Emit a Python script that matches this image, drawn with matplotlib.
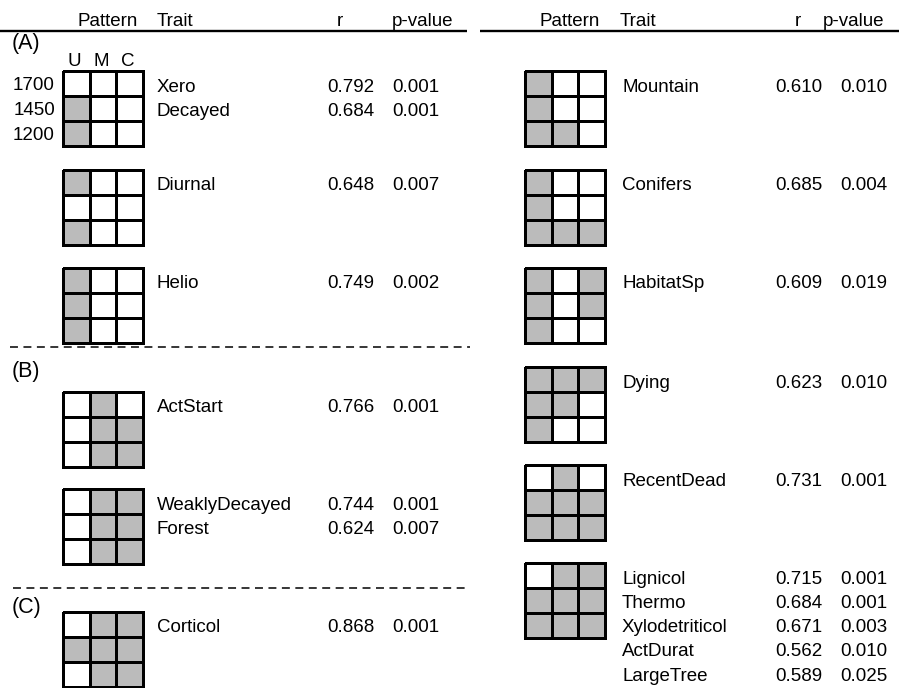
import numpy as np
import matplotlib.pyplot as plt
from matplotlib.colors import ListedColormap

plt.rcParams['font.family'] = ['Liberation Sans', 'DejaVu Sans']

# rows = elevation (1700, 1450, 1200), cols = U, M, C ; 1 = grey cell
elevations = ["1700", "1450", "1200"]
stages = ["U", "M", "C"]

left_traits = [["Xero", "Decayed"], ["Diurnal"], ["Helio"],
               ["ActStart"], ["WeaklyDecayed", "Forest"], ["Corticol"]]
left_r = [[0.792, 0.684], [0.648], [0.749], [0.766], [0.744, 0.624], [0.868]]
left_p = [[0.001, 0.001], [0.007], [0.002], [0.001], [0.001, 0.007], [0.001]]
left_patterns = [
    [[0, 0, 0], [1, 0, 0], [1, 0, 0]],
    [[1, 0, 0], [0, 0, 0], [1, 0, 0]],
    [[1, 0, 0], [1, 0, 0], [1, 0, 0]],
    [[0, 1, 0], [0, 1, 1], [0, 1, 1]],
    [[0, 1, 1], [0, 1, 1], [0, 1, 1]],
    [[0, 1, 1], [1, 1, 1], [0, 1, 1]],
]

right_traits = [["Mountain"], ["Conifers"], ["HabitatSp"], ["Dying"], ["RecentDead"],
                ["Lignicol", "Thermo", "Xylodetriticol", "ActDurat", "LargeTree"]]
right_r = [[0.610], [0.685], [0.609], [0.623], [0.731],
           [0.715, 0.684, 0.671, 0.562, 0.589]]
right_p = [[0.010], [0.004], [0.019], [0.010], [0.001],
           [0.001, 0.001, 0.003, 0.010, 0.025]]
right_patterns = [
    [[1, 0, 0], [1, 0, 0], [1, 1, 0]],
    [[1, 0, 0], [1, 0, 0], [1, 1, 1]],
    [[1, 0, 1], [1, 0, 1], [1, 0, 0]],
    [[1, 1, 1], [1, 1, 0], [1, 0, 0]],
    [[0, 1, 0], [1, 1, 1], [1, 1, 1]],
    [[0, 1, 1], [1, 1, 1], [1, 1, 1]],
]

group_labels = ["(A)", "(B)", "(C)"]

# layout (pixels)
W, H = 899, 688
left_tops = [71, 170, 268, 392, 489, 612]
right_tops = [71, 170, 268, 367, 465, 563]
grid_w, grid_h = 80, 75
fs = 13.5
line_step = 24.3
cmap = ListedColormap(['white', '#bbbbbb'])

fig = plt.figure(figsize=(W / 100, H / 100), dpi=100)
ax = fig.add_axes([0, 0, 1, 1])
ax.set_xlim(0, W)
ax.set_ylim(H, 0)
ax.axis('off')


def draw_pattern(x0, y0, pat):
    a = fig.add_axes([x0 / W, 1 - (y0 + grid_h) / H, grid_w / W, grid_h / H])
    a.pcolormesh(np.array(pat), cmap=cmap, vmin=0, vmax=1,
                 edgecolors='black', linewidth=2.1, clip_on=False)
    a.set_xlim(0, 3)
    a.set_ylim(3, 0)
    a.axis('off')
    return a


def draw_column(tops, traits, rs, ps, pats, gx, tx, rx, px):
    for top, tr, r, p, pat in zip(tops, traits, rs, ps, pats):
        draw_pattern(gx, top, pat)
        for k in range(len(tr)):
            yb = top + 14 + k * line_step + 6.5
            ax.text(tx, yb, tr[k], fontsize=fs, va='baseline', ha='left')
            ax.text(rx, yb, '{:.3f}'.format(r[k]), fontsize=fs, va='baseline', ha='left')
            ax.text(px, yb, '{:.3f}'.format(p[k]), fontsize=fs, va='baseline', ha='left')


draw_column(left_tops, left_traits, left_r, left_p, left_patterns, 63, 157, 327, 392)
draw_column(right_tops, right_traits, right_r, right_p, right_patterns, 525, 622, 775, 840)

# headers
hy = 26.5
ax.text(138, hy, 'Pattern', fontsize=fs, ha='right', va='baseline')
ax.text(157, hy, 'Trait', fontsize=fs, ha='left', va='baseline')
ax.text(337, hy, 'r', fontsize=fs, ha='left', va='baseline')
ax.text(392, hy, 'p-value', fontsize=fs, ha='left', va='baseline')
ax.text(600, hy, 'Pattern', fontsize=fs, ha='right', va='baseline')
ax.text(620, hy, 'Trait', fontsize=fs, ha='left', va='baseline')
ax.text(795, hy, 'r', fontsize=fs, ha='left', va='baseline')
ax.text(823, hy, 'p-value', fontsize=fs, ha='left', va='baseline')
ax.plot([0, 467], [31, 31], color='black', lw=1.7, solid_capstyle='butt')
ax.plot([480, 899], [31, 31], color='black', lw=1.7, solid_capstyle='butt')

# axis labels of the first pattern
for i, lab in enumerate(elevations):
    ax.text(55, 71 + (i + 0.5) * grid_h / 3 + 6.5, lab, fontsize=fs, ha='right', va='baseline')
for j, lab in enumerate(stages):
    ax.text(63 + (j + 0.5) * grid_w / 3 - 2, 66.5, lab, fontsize=fs, ha='center', va='baseline')

# group labels and separators
for lab, yb in zip(group_labels, [49, 377, 613]):
    ax.text(12, yb, lab, fontsize=15.5, ha='left', va='baseline')
for yl, x0 in [(347, 10), (588, 13)]:
    ax.plot([x0, 470], [yl, yl], color='black', lw=1.1, linestyle=(0, (5.2, 3.6)))

plt.savefig('out.png', dpi=100)
